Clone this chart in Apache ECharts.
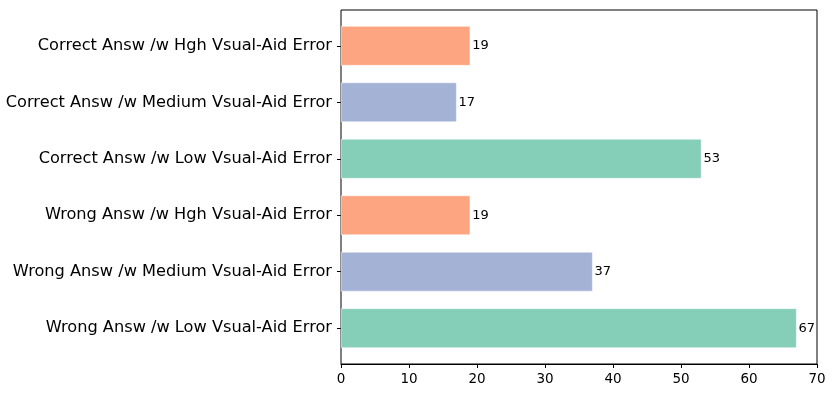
<!DOCTYPE html>
<html>
<head>
<meta charset="utf-8">
<script src="https://cdn.jsdelivr.net/npm/echarts@6/dist/echarts.min.js"></script>
<style>
html,body{margin:0;padding:0;background:#fff;}
#chart{width:836px;height:396px;}
</style>
</head>
<body>
<div id="chart"></div>
<script>
const categories = [
  'Correct Answ /w Hgh Vsual-Aid Error',
  'Correct Answ /w Medium Vsual-Aid Error',
  'Correct Answ /w Low Vsual-Aid Error',
  'Wrong Answ /w Hgh Vsual-Aid Error',
  'Wrong Answ /w Medium Vsual-Aid Error',
  'Wrong Answ /w Low Vsual-Aid Error'
];
const values = [19, 17, 53, 19, 37, 67];
const barColors = ['#FDA481', '#A4B3D5', '#85CEB7', '#FDA481', '#A4B3D5', '#85CEB7'];
const xTicks = [0, 10, 20, 30, 40, 50, 60, 70];

const font = 'DejaVu Sans';
const chart = echarts.init(document.getElementById('chart'), null, {renderer: 'canvas'});

const pxPerUnit = 354 / 6.27;
const innerTop = 10 + (0.635 - 0.5) * pxPerUnit;
const innerHeight = 6 * pxPerUnit;

chart.setOption({
  animation: false,
  backgroundColor: '#fff',
  grid: [
    {left: 341, top: 10, width: 476, height: 354, show: true, borderColor: '#000', borderWidth: 1, backgroundColor: 'transparent'},
    {left: 341, top: innerTop, width: 476, height: innerHeight}
  ],
  xAxis: [
    {
      gridIndex: 0, type: 'value', min: xTicks[0], max: xTicks[xTicks.length - 1], interval: 10,
      axisLine: {show: true, lineStyle: {color: '#000', width: 1}},
      axisTick: {show: true, length: 4, lineStyle: {color: '#000'}},
      axisLabel: {color: '#000', fontFamily: font, fontSize: 13.5, margin: 8},
      splitLine: {show: false}
    },
    {
      gridIndex: 1, type: 'value', min: xTicks[0], max: xTicks[xTicks.length - 1],
      show: false, splitLine: {show: false}
    }
  ],
  yAxis: [
    {gridIndex: 0, type: 'value', min: 0, max: 1, show: false, splitLine: {show: false}},
    {
      gridIndex: 1, type: 'category', data: categories, inverse: true,
      axisLine: {show: false},
      axisTick: {show: true, length: 4, alignWithLabel: true, lineStyle: {color: '#000'}},
      axisLabel: {color: '#000', fontFamily: font, fontSize: 16.2, margin: 9},
      splitLine: {show: false}
    }
  ],
  series: [{
    type: 'bar',
    xAxisIndex: 1,
    yAxisIndex: 1,
    barCategoryGap: '30%',
    data: values.map((v, i) => ({value: v, itemStyle: {color: barColors[i]}})),
    itemStyle: {borderColor: '#fff', borderWidth: 0.5},
    label: {show: true, position: 'right', distance: 2, color: '#000', fontFamily: font, fontSize: 13}
  }]
});
</script>
</body>
</html>
